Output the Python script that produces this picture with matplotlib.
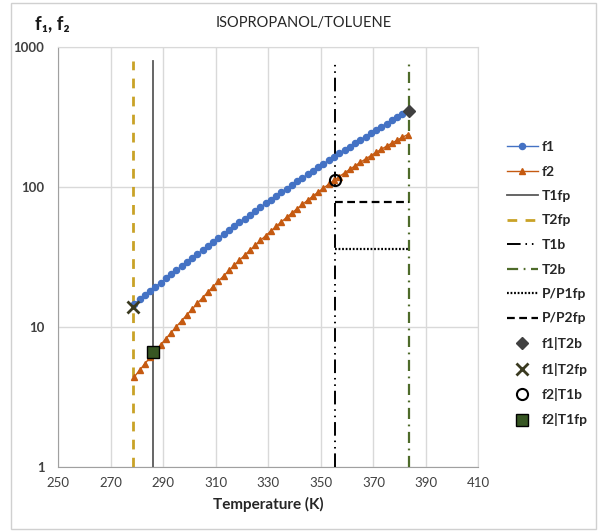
import matplotlib
matplotlib.use("Agg")
import matplotlib.pyplot as plt
from matplotlib.patches import Rectangle

plt.rcParams['font.family'] = ['Lato', 'DejaVu Sans']

# temperaturas (K) dos pontos das curvas
temps = [279, 281, 283, 285, 287, 289, 291, 293, 295, 297,
         299, 301, 303, 305, 307, 309, 311, 313, 315, 317,
         319, 321, 323, 325, 327, 329, 331, 333, 335, 337,
         339, 341, 343, 345, 347, 349, 351, 353, 355, 357,
         359, 361, 363, 365, 367, 369, 371, 373, 375, 377,
         379, 381, 383]

f1 = [14.65, 15.72, 16.86, 18.07, 19.36, 20.75, 22.23, 23.79, 25.46, 27.23,
      29.13, 31.13, 33.27, 35.53, 37.95, 40.52, 43.23, 46.11, 49.16, 52.40,
      55.84, 59.48, 63.33, 67.38, 71.67, 76.24, 81.04, 86.12, 91.50, 97.2,
      103.1, 109.5, 116.1, 123.1, 130.5, 138.3, 146.5, 155.1, 164.1, 173.6,
      183.7, 194.2, 205.3, 216.8, 229.0, 241.8, 255.2, 269.2, 283.8, 299.2,
      315.3, 332.1, 349.7]

f2 = [4.42, 4.92, 5.47, 6.08, 6.74, 7.47, 8.26, 9.13, 10.08, 11.11,
      12.23, 13.45, 14.77, 16.21, 17.77, 19.45, 21.26, 23.21, 25.32, 27.58,
      30.00, 32.60, 35.39, 38.36, 41.53, 44.92, 48.52, 52.35, 56.41, 60.72,
      65.27, 70.08, 75.16, 80.53, 86.12, 92.05, 98.24, 104.7, 111.5, 118.6,
      126.0, 133.6, 141.6, 149.9, 158.4, 167.3, 176.4, 185.8, 195.5, 205.4,
      215.6, 226.1, 236.6]

# temperaturas características
T1fp = 285.9
T2fp = 278.6
T1b = 355.4
T2b = 383.6
vline_low = 1
vline_top = 790

# razões de pressão
P_P1fp = 36
P_P2fp = 78

# pontos de interseção
f1_T2b = 350
f1_T2fp = 14
f2_T1b = 112
f2_T1fp = 6.6

xticks = [250, 270, 290, 310, 330, 350, 370, 390, 410]
yticks = [1, 10, 100, 1000]

fig = plt.figure(figsize=(5.99, 5.32), dpi=100)
ax = fig.add_axes([0.0973, 0.1222, 0.7014, 0.7895])

# moldura externa
fig.patches.append(Rectangle((11 / 599, 3 / 532), 585 / 599, 526 / 532,
                             transform=fig.transFigure, fill=False,
                             edgecolor='#D0D0D0', linewidth=1))

ax.plot(temps, f1, color='#4472C4', lw=1, marker='o', ms=4.4, label='f1', zorder=4)
ax.plot(temps, f2, color='#C55A11', lw=1, marker='^', ms=5, label='f2', zorder=4)

ax.plot([T1fp, T1fp], [vline_low, vline_top], color='#595959', lw=1.3, label='T1fp', zorder=3)
ax.plot([T2fp, T2fp], [vline_low, vline_top], color='#C9A227', lw=2,
        linestyle=(0, (3.5, 3)), label='T2fp', zorder=3)
ax.plot([T1b, T1b], [vline_low, 750], color='black', lw=1.4,
        linestyle=(0, (7, 2.5, 0.8, 2.5, 0.8, 2.5)), label='T1b', zorder=3)
ax.plot([T2b, T2b], [vline_low, vline_top], color='#4E6B2A', lw=1.6,
        linestyle=(0, (5, 2.5, 0.8, 2.5)), label='T2b', zorder=3)

ax.plot([T1b, T2b], [P_P1fp, P_P1fp], color='black',
        lw=1.6, linestyle=(0, (0.8, 0.8)), label='P/P1fp', zorder=3)
ax.plot([T1b, T2b], [P_P2fp, P_P2fp], color='black',
        lw=1.6, linestyle=(0, (3.5, 2)), label='P/P2fp', zorder=3)

ax.plot([T2b], [f1_T2b], linestyle='none', marker='D', ms=6, color='#404040',
        label='f1|T2b', zorder=5)
ax.plot([T2fp], [f1_T2fp], linestyle='none', marker='x', ms=8, mew=2,
        color='#3A3A20', label='f1|T2fp', zorder=5)
ax.plot([T1b], [f2_T1b], linestyle='none', marker='o', ms=8, mew=1.5,
        markerfacecolor='none', markeredgecolor='black', label='f2|T1b', zorder=5)
ax.plot([T1fp], [f2_T1fp], linestyle='none', marker='s', ms=8.5, mew=1,
        markerfacecolor='#375623', markeredgecolor='black', label='f2|T1fp', zorder=5)

ax.set_yscale('log')
ax.set_xlim(250, 410)
ax.set_ylim(1, 1000)
ax.set_xticks(xticks)
ax.set_xticklabels([str(t) for t in xticks])
ax.set_yticks(yticks)
ax.set_yticklabels([str(t) for t in yticks], fontweight='bold')
ax.minorticks_off()
ax.tick_params(axis='both', length=0, labelsize=9.5, colors='#404040')
ax.tick_params(axis='y', pad=10)
ax.tick_params(axis='x', pad=7)
ax.grid(True, color='#D9D9D9', lw=1)
ax.set_axisbelow(True)
for side in ['top', 'right']:
    ax.spines[side].set_color('#D9D9D9')
for side in ['left', 'bottom']:
    ax.spines[side].set_color('#A0A0A0')

ax.set_xlabel('Temperature (K)', fontsize=11, fontweight='bold', color='#262626', labelpad=6)

fig.text(35 / 599, 1 - 24 / 532, 'f₁, f₂', fontsize=13.5, fontweight='bold',
         va='center', ha='left', color='#1A1A1A')
fig.text(304 / 599, 1 - 23 / 532, 'ISOPROPANOL/TOLUENE', fontsize=10.5,
         va='center', ha='center', color='#262626')

leg = ax.legend(loc='upper left', bbox_to_anchor=(507 / 599, 1 - 141 / 532),
                bbox_transform=fig.transFigure, frameon=False, fontsize=10,
                handlelength=2.2, handletextpad=0.3, labelspacing=0.9,
                borderpad=0, borderaxespad=0, numpoints=1)
for t in leg.get_texts():
    t.set_fontweight('bold')
    t.set_color('#262626')

fig.savefig('out.png', dpi=100)
